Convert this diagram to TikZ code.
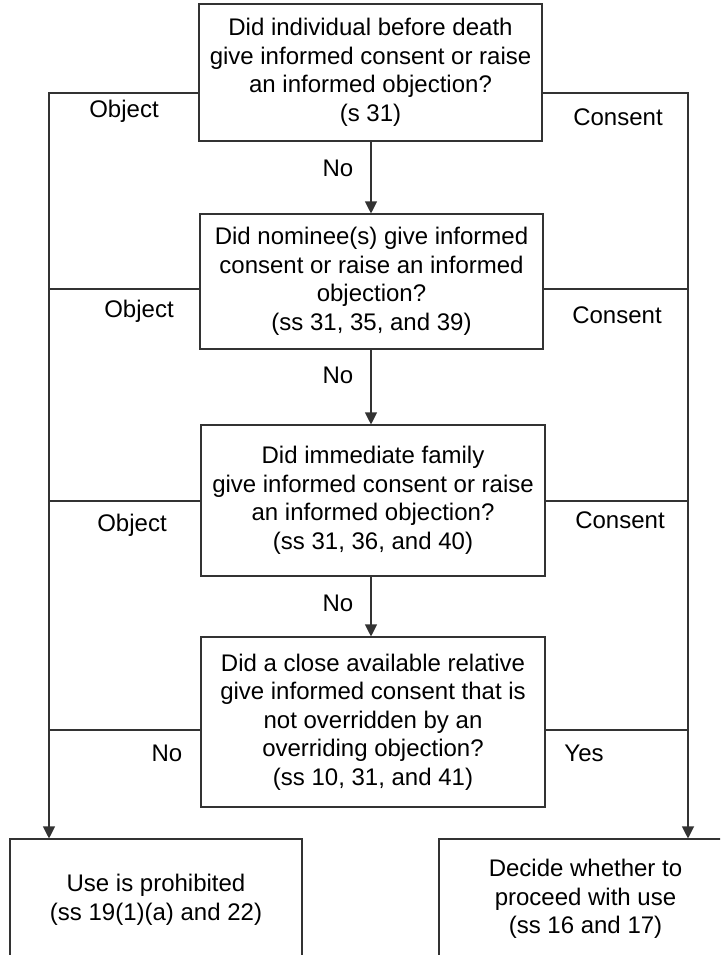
\documentclass[tikz,border=0pt]{standalone}
\usepackage{fontspec}
\setmainfont{Liberation Sans}
\usetikzlibrary{arrows.meta}

\begin{document}
\begin{tikzpicture}[x=1pt,y=-1pt,
        question/.style={draw=black!80,line width=1.1pt,align=center,inner sep=0pt,
            font=\fontsize{24}{28.5}\selectfont},
        outcome/.style={question},
        answer/.style={font=\fontsize{24}{28.5}\selectfont},
        link/.style={draw=black!80,line width=1.1pt},
        arr/.style={link,-{Triangle[width=12pt,length=12pt]}}]
                \clip (0,0) rectangle (720,955);
                \node[question,minimum width=343pt,minimum height=137pt] (q1) at (370.5,72.5)
                    {Did individual before death\\give informed consent or raise\\an informed objection?\\(s 31)};
                \node[question,minimum width=343pt,minimum height=135pt] (q2) at (371.5,281.5)
                    {Did nominee(s) give informed\\consent or raise an informed\\objection?\\(ss 31, 35, and 39)};
                \node[question,minimum width=344pt,minimum height=151pt] (q3) at (373,500.5)
                    {Did immediate family\\give informed consent or raise\\an informed objection?\\(ss 31, 36, and 40)};
                \node[question,minimum width=344pt,minimum height=170pt] (q4) at (373,722)
                    {Did a close available relative\\give informed consent that is\\not overridden by an\\overriding objection?\\(ss 10, 31, and 41)};
                \node[outcome,minimum width=292pt,minimum height=122pt] (ban) at (156,900)
                    {Use is prohibited\\(ss 19(1)(a) and 22)};
                \node[outcome,minimum width=293pt,minimum height=120pt] (use) at (585.5,899)
                    {Decide whether to\\proceed with use\\(ss 16 and 17)};
                \coordinate (l1) at (49,93);
                \coordinate (l2) at (49,289);
                \coordinate (l3) at (49,501);
                \coordinate (l4) at (49,730);
                \coordinate (r1) at (688,93);
                \coordinate (r2) at (688,289);
                \coordinate (r3) at (688,501);
                \coordinate (r4) at (688,730);
                \draw[arr] (q1.west |- l1) -| (ban.north -| l1);
                \draw[arr] (q1.east |- r1) -| (use.north -| r1);
                \draw[link] (q2.west |- l2) -- (l2);
                \draw[link] (q3.west |- l3) -- (l3);
                \draw[link] (q4.west |- l4) -- (l4);
                \draw[link] (q2.east |- r2) -- (r2);
                \draw[link] (q3.east |- r3) -- (r3);
                \draw[link] (q4.east |- r4) -- (r4);
                \draw[arr] (q1.south -| 371,0) -- (q2.north -| 371,0);
                \draw[arr] (q2.south -| 371,0) -- (q3.north -| 371,0);
                \draw[arr] (q3.south -| 371,0) -- (q4.north -| 371,0);
                \node[answer] (o1) at (124,111) {Object};
                \node[answer] (c1) at (618,117) {Consent};
                \node[answer] (n1) at (338,168) {No};
                \node[answer] (o2) at (139,311) {Object};
                \node[answer] (c2) at (617,315) {Consent};
                \node[answer] (n2) at (338,375) {No};
                \node[answer] (o3) at (132,525) {Object};
                \node[answer] (c3) at (620,520) {Consent};
                \node[answer] (n3) at (338,603) {No};
                \node[answer] (n4) at (167,753) {No};
                \node[answer] (y4) at (584,753) {Yes};
            \end{tikzpicture}
\end{document}
